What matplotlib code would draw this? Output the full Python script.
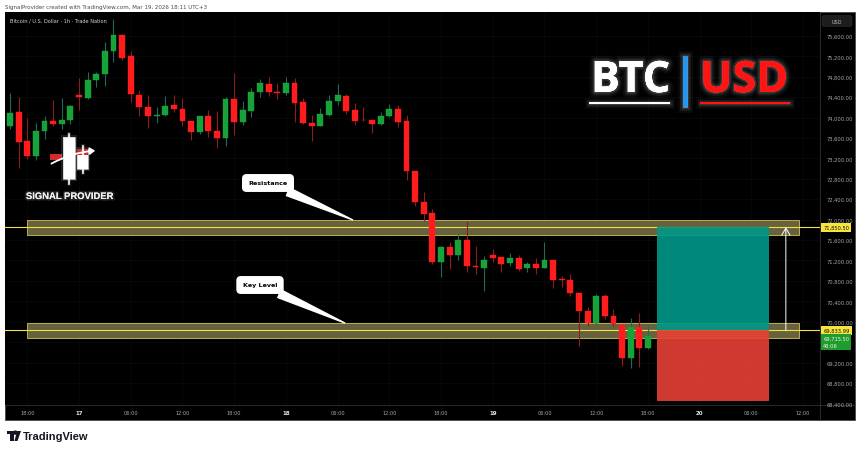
import matplotlib
matplotlib.use("Agg")
import matplotlib.pyplot as plt
import matplotlib.dates as mdates
import matplotlib.patheffects as pe
from matplotlib.patches import Rectangle, Polygon, FancyArrowPatch, FancyBboxPatch
import pandas as pd

W, H = 860, 452

# hourly BTCUSD candles, first bar at 2026-03-16 16:00
start = "2026-03-16 16:00"
opens = [73840, 74110, 73540, 73250, 73740, 73930, 73880, 73950,
         74440, 74385, 74738, 74855, 75306, 75620, 75208, 74444, 74208, 74032, 74052, 74248,
         74169, 73934, 73718, 74032, 73738, 73601, 74365, 73914, 74130, 74502, 74659, 74493,
         74483, 74679, 74306, 73895, 73836, 74052, 74326, 74424, 74150, 73954, 73954, 73875,
         74032, 74169, 73934, 72954, 72346, 72131, 71170, 71464, 71308, 71602, 71092, 71050,
         71310, 71270, 71150, 71250, 71050, 71130, 71050, 71210, 70840, 70820, 70560, 70210,
         69980, 70500, 70110, 69936, 69288, 69896, 69484]
highs = [74480, 74400, 73990, 73900, 74030, 74350, 74390, 74240,
         74780, 74890, 74894, 75482, 75930, 75639, 75306, 74542, 74444, 74208, 74424, 74444,
         74385, 73934, 74032, 74150, 74130, 74404, 74875, 74326, 74581, 74757, 74796, 74679,
         74796, 74777, 74385, 74052, 74189, 74444, 74659, 74463, 74287, 74208, 73954, 74110,
         74267, 74248, 74052, 72954, 72542, 72209, 71484, 71562, 71720, 71974, 71484, 71290,
         71430, 71270, 71350, 71310, 71170, 71250, 71560, 71210, 70900, 70940, 70580, 70290,
         70540, 70540, 70250, 69936, 70073, 70171, 69916]
lows = [73780, 73010, 73190, 73170, 73580, 73840, 73780, 73870,
        74150, 74365, 74600, 74620, 75090, 75130, 74306, 74032, 73797, 73895, 74032, 74110,
        73836, 73562, 73679, 73620, 73405, 73444, 73660, 73856, 74012, 74404, 74424, 74365,
        74444, 73914, 73875, 73542, 73836, 74032, 74248, 74071, 73856, 73934, 73699, 73856,
        74012, 73816, 72778, 72268, 71974, 71131, 70876, 71033, 71210, 70974, 70935, 70600,
        71170, 70970, 71090, 70990, 70970, 70940, 71050, 70660, 70680, 70500, 69520, 69920,
        69960, 70050, 69920, 69132, 69092, 69112, 69465]
closes = [74090, 73520, 73250, 73740, 73930, 73880, 73950, 74230,
          74400, 74738, 74855, 75306, 75620, 75169, 74463, 74208, 74032, 74052, 74228, 74169,
          73934, 73718, 74032, 73738, 73601, 74365, 73914, 74150, 74502, 74679, 74502, 74483,
          74679, 74287, 73895, 73836, 74071, 74326, 74444, 74130, 73934, 73944, 73875, 74032,
          74169, 73914, 72954, 72346, 72111, 71170, 71464, 71308, 71602, 71092, 71070, 71210,
          71250, 71130, 71250, 71030, 71130, 71050, 71210, 70820, 70820, 70560, 70210, 69980,
          70500, 70110, 69960, 69288, 69896, 69484, 69716]

resistance_zone = (71700, 71995)
resistance_line = 71850.50
key_zone = (69680, 69975)
key_line = 69833.99
last_price = 69715.50
countdown = "48:06"
target, entry, stop = 71850.50, 69833.99, 68450
zone_start, zone_end = "2026-03-16 18:00", "2026-03-20 11:30"
pos_start, pos_end = "2026-03-19 19:00", "2026-03-20 08:00"
arrow_time = "2026-03-20 10:00"
resistance_tip = "2026-03-18 07:45"
key_tip = "2026-03-18 06:50"

price_ticks = list(range(68400, 75601, 400))
hidden_ticks = {69600}  # covered by the last-price badge
time_labels = ["18:00", "17", "06:00", "12:00", "18:00", "18", "06:00", "12:00",
               "18:00", "19", "06:00", "12:00", "18:00", "20", "06:00", "12:00"]
day_labels = {"17", "18", "19", "20"}

UP, DOWN = "#17a23a", "#ff1c1c"
UP_WICK, DOWN_WICK = "#21695c", "#8e1d1d"
YELLOW = "#f2df4a"

fig = plt.figure(figsize=(W / 100, H / 100), dpi=100, facecolor="white")

# background panel
bg = fig.add_axes([0, 0, 1, 1], zorder=0)
bg.set_xlim(0, W)
bg.set_ylim(H, 0)
bg.axis("off")
bg.add_patch(Rectangle((5, 13), 850, 408, facecolor="black", edgecolor="#3c3c3c", lw=0.5))
bg.plot([5, 855], [406, 406], color="#3a3a3a", lw=0.5)
bg.plot([820, 820], [13, 421], color="#3a3a3a", lw=0.5)
bg.text(5, 7, "SignalProvider created with TradingView.com, Mar 19, 2026 18:11 UTC+3",
        fontsize=4, color="#4a4a4a", va="center", ha="left")

# TradingView footer logo
bg.add_patch(Rectangle((7, 432), 6.5, 3, color="#131722", lw=0))
bg.add_patch(Rectangle((10, 432), 3.5, 10, color="#131722", lw=0))
bg.add_patch(Polygon([[17, 432], [21, 432], [17.5, 442], [14.5, 442]], closed=True, color="#131722", lw=0))
bg.add_patch(plt.Circle((15.3, 433.6), 1.5, color="#131722"))
bg.text(23, 437.5, "TradingView", fontsize=8, fontweight="bold", color="#131722",
        family="Liberation Sans", va="center", ha="left")

# chart axes
ax = fig.add_axes([5 / W, 1 - 406 / H, 815 / W, (406 - 13) / H], zorder=1)
ax.set_facecolor("black")
t0 = mdates.date2num(pd.Timestamp("2026-03-17"))
ax.set_xlim(t0 - 74 / 8.62 / 24, t0 + 741 / 8.62 / 24)
ax.set_ylim(68367, 76070)
for s in ax.spines.values():
    s.set_visible(False)

ticks = mdates.date2num(pd.date_range("2026-03-16 18:00", "2026-03-20 12:00", freq="6h"))
ax.set_xticks(ticks)
ax.set_xticklabels(time_labels)
ax.tick_params(axis="x", length=0, pad=3.5, labelsize=3.6, labelcolor="#a8a8a8")
for lab in ax.get_xticklabels():
    if lab.get_text() in day_labels:
        lab.set_color("#e6e6e6")
        lab.set_fontweight("bold")
        lab.set_fontsize(4)

ax.yaxis.tick_right()
ax.set_yticks(price_ticks)
ax.set_yticklabels(["" if v in hidden_ticks else f"{v:,.2f}" for v in price_ticks])
ax.tick_params(axis="y", length=0, pad=4.5, labelsize=3.7, labelcolor="#a8a8a8")
ax.grid(True, color="#0b0b0b", lw=0.5)
ax.set_axisbelow(True)

# zones and lines
zx0, zx1 = mdates.date2num(pd.Timestamp(zone_start)), mdates.date2num(pd.Timestamp(zone_end))
for lo, hi in (resistance_zone, key_zone):
    ax.add_patch(Rectangle((zx0, lo), zx1 - zx0, hi - lo, facecolor="#67623e",
                           edgecolor="#bfae4c", lw=0.7, zorder=2))
for lvl in (resistance_line, key_line):
    ax.axhline(lvl, color=YELLOW, lw=0.8, zorder=3)

# candles
times = pd.date_range(start, periods=len(opens), freq="h")
x = mdates.date2num(times)
ups = [c >= o for o, c in zip(opens, closes)]
wick_cols = [UP_WICK if u else DOWN_WICK for u in ups]
body_cols = [UP if u else DOWN for u in ups]
ax.vlines(x, lows, highs, colors=wick_cols, lw=0.8, zorder=5)
bottoms = [min(o, c) for o, c in zip(opens, closes)]
heights = [max(abs(c - o), 15) for o, c in zip(opens, closes)]
ax.bar(x, heights, bottom=bottoms, width=0.68 / 24, color=body_cols,
       edgecolor=body_cols, lw=0.3, zorder=6)

# long position tool
px0, px1 = mdates.date2num(pd.Timestamp(pos_start)), mdates.date2num(pd.Timestamp(pos_end))
ax.add_patch(Rectangle((px0, entry), px1 - px0, target - entry, facecolor="#009889",
                       alpha=0.9, lw=0, zorder=7))
ax.add_patch(Rectangle((px0, stop), px1 - px0, entry - stop, facecolor="#e64135",
                       alpha=0.9, lw=0, zorder=7))
xa = mdates.date2num(pd.Timestamp(arrow_time))
ax.annotate("", xy=(xa, target), xytext=(xa, entry),
            arrowprops=dict(arrowstyle="->,head_length=0.5,head_width=0.3", color="white",
                            lw=0.7, shrinkA=0, shrinkB=0), zorder=8)

# callouts
for label, tip_t, tip_p, pos in (("Resistance", resistance_tip, resistance_zone[1], (268, 268)),
                                 ("Key Level", key_tip, key_zone[1], (260, 166))):
    ax.annotate(label, xy=(mdates.date2num(pd.Timestamp(tip_t)), tip_p), xycoords="data",
                xytext=pos, textcoords="figure pixels", ha="center", va="center",
                fontsize=4.6, fontweight="bold", color="black", zorder=9,
                bbox=dict(boxstyle="round,pad=0.9,rounding_size=0.6", fc="white", ec="white"),
                arrowprops=dict(arrowstyle="wedge,tail_width=0.6", fc="white", ec="white",
                                mutation_scale=10, shrinkA=0, shrinkB=0))

# price scale badges
ytr = ax.get_yaxis_transform()
for lvl, txt in ((resistance_line, "71,850.50"), (key_line, "69,833.99")):
    ax.text(1.004, lvl, txt, transform=ytr, fontsize=3.7, color="#111111", ha="left",
            va="center", zorder=10,
            bbox=dict(boxstyle="square,pad=0.4", fc="#f7e43c", ec="none"))
ax.annotate(f"{last_price:,.2f}\n{countdown}", xy=(1.004, last_price), xycoords=ytr,
            xytext=(0, 0.2), textcoords="offset points", fontsize=3.7, color="#f2f2f2",
            ha="left", va="top", linespacing=1.4, zorder=10,
            bbox=dict(boxstyle="square,pad=0.4", fc="#1f9d2c", ec="none"))

# overlay: logos and header text
ov = fig.add_axes([0, 0, 1, 1], zorder=3)
ov.set_xlim(0, W)
ov.set_ylim(H, 0)
ov.axis("off")

ov.text(10, 21, "Bitcoin / U.S. Dollar \u00b7 1h \u00b7 Trade Nation", fontsize=3.6,
        color="#d6d6d6", va="center", ha="left")
ov.add_patch(FancyBboxPatch((822, 16.5), 30, 11, boxstyle="round,pad=0,rounding_size=2",
                            fc="#1d1d1d", ec="#2c2c2c", lw=0.4))
ov.text(837, 22, "USD", fontsize=3.6, color="#bbbbbb", ha="center", va="center")

glow = [pe.Stroke(linewidth=8, foreground=(1, 1, 1, 0.04)),
        pe.Stroke(linewidth=5, foreground=(1, 1, 1, 0.07)),
        pe.Stroke(linewidth=2.5, foreground=(1, 1, 1, 0.12)), pe.Normal()]
ov.text(591, 93, "BTC", fontsize=31, fontweight="bold", family="Open Sans", color="white",
        ha="left", va="baseline", path_effects=glow)
ov.text(700, 93, "USD", fontsize=31, fontweight="bold", family="Open Sans", color="#ff1414",
        ha="left", va="baseline", path_effects=glow)
ov.plot([590, 669], [103.5, 103.5], color="white", lw=1.5, path_effects=glow)
ov.plot([701, 789], [103.5, 103.5], color="#ff1414", lw=1.5, path_effects=glow)
ov.add_patch(Rectangle((683, 57), 4, 51, color="#2196f3", lw=0, path_effects=glow))

# Signal Provider logo
soft = [pe.Stroke(linewidth=3, foreground=(1, 1, 1, 0.12)), pe.Normal()]
ov.plot([69, 69], [135, 185], color="white", lw=1.2, path_effects=soft)
ov.plot([82.5, 82.5], [147, 174], color="white", lw=1.2, path_effects=soft)
ov.add_patch(Rectangle((49.5, 155), 12, 5.5, color="#d42a2a", lw=0))
ov.add_patch(Rectangle((63, 138), 12, 42, facecolor="white", edgecolor="#bbbbbb", lw=0.4, path_effects=soft))
ov.add_patch(Rectangle((77, 150), 11, 20, facecolor="white", edgecolor="#bbbbbb", lw=0.4, path_effects=soft))
ov.add_patch(Rectangle((77, 150), 10.5, 6, color="#d42a2a", lw=0))
ov.add_patch(FancyArrowPatch((49, 166), (98, 151.5), connectionstyle="arc3,rad=-0.12",
                             arrowstyle="-|>,head_length=3,head_width=2", color="white",
                             lw=1.3, mutation_scale=1))
ov.text(70, 197.5, "SIGNAL PROVIDER", fontsize=6.8, fontweight="bold", family="Liberation Sans",
        color="#f0f0f0", ha="center", va="center",
        path_effects=[pe.Stroke(linewidth=2.5, foreground=(1, 1, 1, 0.12)), pe.Normal()])

fig.savefig("out.png", dpi=100, facecolor="white")
